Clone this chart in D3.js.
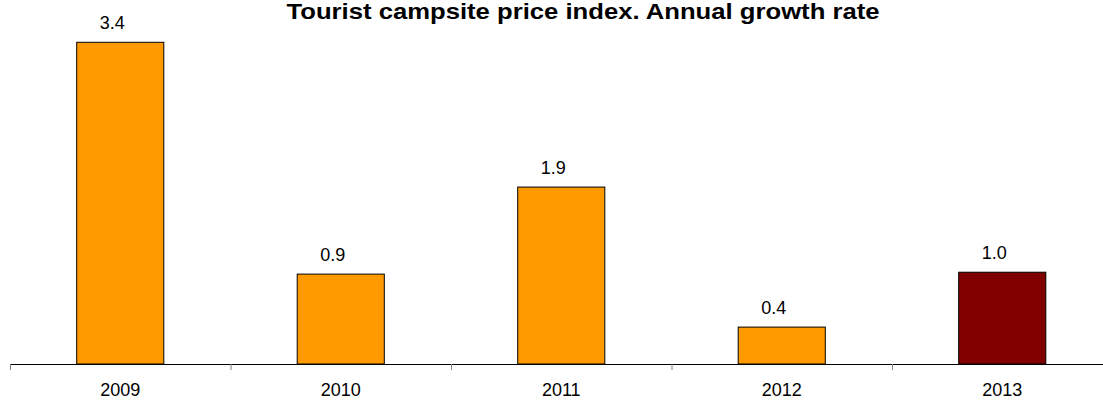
<!DOCTYPE html>
<html><head><meta charset="utf-8">
<script src="https://cdn.jsdelivr.net/npm/d3@7"></script>
<style>body{margin:0;background:#fff}svg{display:block}text{font-family:"Liberation Sans",Arial,sans-serif}</style>
</head><body><svg id="c" width="1103" height="401"></svg>
<script>
const title = "Tourist campsite price index. Annual growth rate";
const years = ["2009","2010","2011","2012","2013"];
const values = [3.4, 0.95, 1.87, 0.39, 0.97];
const valueLabels = ["3.4","0.9","1.9","0.4","1.0"];
const highlightYear = "2013";

const svg = d3.select("#c");
const baseY = 364;
const x = d3.scaleBand().domain(years).range([10, 1112.5]).paddingInner(0.605).paddingOuter(0.3025);
const y = d3.scaleLinear().domain([0, 3.4]).range([baseY, 42.3]);

svg.append("text").attr("x", 583).attr("y", 19).attr("text-anchor","middle")
  .attr("font-size", 22).attr("font-weight","bold")
  .attr("textLength", 593).attr("lengthAdjust","spacingAndGlyphs").text(title);

svg.selectAll("rect.bar").data(years).join("rect").attr("class","bar")
  .attr("x", d => x(d)).attr("width", x.bandwidth())
  .attr("y", (d,i) => y(values[i])).attr("height", (d,i) => baseY - y(values[i]))
  .attr("fill", d => d === highlightYear ? "#800000" : "#FF9900")
  .attr("stroke", "#000").attr("stroke-width", 1);

svg.selectAll("text.lbl").data(years).join("text").attr("class","lbl")
  .attr("x", d => x(d) + x.bandwidth()/2 - 8)
  .attr("y", (d,i) => y(values[i]) - 13)
  .attr("text-anchor","middle").attr("font-size", 18).attr("fill","#000")
  .text((d,i) => valueLabels[i]);

const axis = d3.axisBottom(x).tickSize(0).tickPadding(19);
const g = svg.append("g").attr("transform", `translate(0,${baseY})`).call(axis);
g.select(".domain").attr("stroke","#000").attr("d", `M10,0.5H1112.5`);
g.selectAll("text").attr("font-size", 18).attr("font-family", '"Liberation Sans",Arial,sans-serif').attr("fill","#000");

const bounds = d3.range(years.length).map(i => 10 + i * x.step());
g.selectAll("line.bt").data(bounds).join("line").attr("class","bt")
  .attr("x1", d => d + 0.5).attr("x2", d => d + 0.5).attr("y1", 0).attr("y2", 6)
  .attr("stroke", "#808080");
</script></body></html>
